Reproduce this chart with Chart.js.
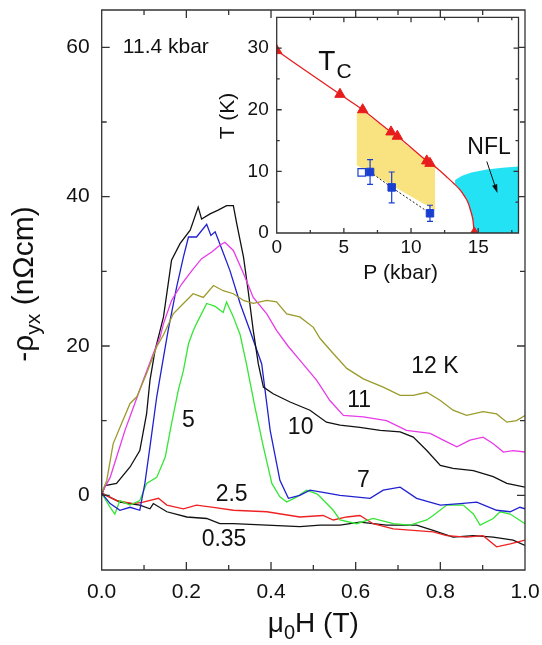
<!DOCTYPE html>
<html><head><meta charset="utf-8">
<script src="https://cdn.jsdelivr.net/npm/chart.js@4"></script>
<style>
html,body{margin:0;padding:0;background:#fff;}
#wrap{position:relative;width:542px;height:645px;overflow:hidden;}
#main{position:absolute;left:0;top:0;width:542px;height:645px;}
#inset{position:absolute;left:210px;top:0;width:320px;height:290px;}
</style></head><body>
<div id="wrap"><canvas id="main" width="542" height="645"></canvas><canvas id="inset" width="320" height="290"></canvas></div>
<script>
// ---------------- main plot data ----------------
const field12K = [0, 0.012, 0.027, 0.043, 0.067, 0.083, 0.106, 0.13, 0.146, 0.169, 0.193, 0.216, 0.24, 0.264, 0.287, 0.311, 0.335, 0.358, 0.39, 0.413, 0.437, 0.468, 0.5, 0.516, 0.547, 0.579, 0.618, 0.665, 0.705, 0.736, 0.768, 0.8, 0.83, 0.862, 0.901, 0.933, 0.957, 0.98, 1.0];
const rho12K   = [0.3, 2, 6.9, 9.1, 12.3, 13.2, 16.3, 19.9, 21.5, 24.3, 25.7, 27, 26.5, 28.1, 27.4, 27, 26.1, 25.7, 26.1, 25.9, 24.3, 23.9, 22.5, 21, 19, 17, 15.6, 14.5, 13.4, 13.4, 13.8, 12.7, 11.4, 10.7, 11.2, 10.9, 9.8, 10, 10.7];

const field11K = [0, 0.02, 0.035, 0.055, 0.075, 0.098, 0.122, 0.138, 0.146, 0.165, 0.189, 0.213, 0.236, 0.26, 0.279, 0.291, 0.311, 0.335, 0.358, 0.39, 0.413, 0.44, 0.468, 0.508, 0.539, 0.571, 0.618, 0.673, 0.72, 0.776, 0.807, 0.839, 0.87, 0.901, 0.925, 0.949, 0.972, 1.0];
const rho11K   = [0.3, 2.4, 5.1, 8.7, 11.8, 15.4, 19, 21.2, 23, 26.1, 28.3, 30.1, 31.7, 32.6, 33.5, 33.9, 32.8, 29.7, 26.5, 24.3, 22.1, 20, 18.1, 15.4, 12.7, 10.7, 10.5, 10, 8.7, 8.3, 7.4, 6.5, 7.4, 7.8, 6.9, 5.8, 6, 5.8];

const field10K = [0, 0.008, 0.035, 0.067, 0.09, 0.106, 0.114, 0.126, 0.138, 0.146, 0.165, 0.185, 0.209, 0.228, 0.236, 0.256, 0.275, 0.295, 0.311, 0.319, 0.335, 0.346, 0.358, 0.37, 0.382, 0.405, 0.445, 0.492, 0.531, 0.563, 0.61, 0.658, 0.705, 0.736, 0.768, 0.8, 0.83, 0.878, 0.925, 0.957, 1.0];
const rho10K   = [0, 1.3, 1.6, 3.8, 6, 10.9, 15.4, 19.4, 22.1, 23.9, 31.5, 33.7, 35.5, 38.6, 37, 37.7, 38.2, 38.8, 38.8, 36.4, 31.9, 27.4, 22.1, 17.6, 14.5, 13.6, 12.5, 11.4, 9.8, 9.4, 9.1, 8.7, 8.5, 7.8, 6, 4, 3.6, 3.3, 2.5, 1.6, 1.1];

const field7K = [0, 0.02, 0.043, 0.067, 0.09, 0.102, 0.114, 0.13, 0.146, 0.157, 0.177, 0.193, 0.205, 0.224, 0.248, 0.258, 0.268, 0.279, 0.303, 0.327, 0.35, 0.378, 0.398, 0.421, 0.441, 0.468, 0.492, 0.523, 0.563, 0.634, 0.665, 0.705, 0.744, 0.8, 0.847, 0.886, 0.933, 0.965, 0.988, 1.0];
const rho7K   = [0.3, -1.1, -2, -1.6, -2, 1.6, 6.5, 13.2, 18.5, 22.1, 27.9, 31.9, 34.6, 34.6, 36.3, 34.8, 35.3, 33.7, 30.1, 25.7, 22.1, 17.6, 8.7, 2, -0.4, 0, 0.7, 0.4, 0, -0.4, 0.7, 1.1, -0.4, -1.3, -1.1, -0.9, -2, -2.2, -1.6, -1.8];

const field5K = [0, 0.02, 0.031, 0.043, 0.067, 0.09, 0.106, 0.13, 0.15, 0.165, 0.181, 0.193, 0.205, 0.216, 0.224, 0.248, 0.268, 0.287, 0.295, 0.311, 0.327, 0.342, 0.362, 0.382, 0.402, 0.421, 0.437, 0.461, 0.484, 0.508, 0.516, 0.547, 0.563, 0.602, 0.641, 0.689, 0.728, 0.768, 0.783, 0.815, 0.854, 0.878, 0.894, 0.925, 0.941, 0.965, 1.0];
const rho5K   = [0.3, -1.6, -2.5, -0.7, -1.3, -0.7, 1.6, 2.4, 5.1, 9.6, 14.1, 16.7, 20.3, 22, 23, 25.7, 25.3, 24.5, 25.9, 23.9, 21.5, 17.6, 11.8, 6.5, 1.6, -0.2, -0.9, -0.2, 0.7, 0.2, -0.2, -2, -3.3, -3.8, -3.1, -3.8, -4, -3.3, -2.7, -1.3, -1.3, -2.5, -4, -3.1, -2.2, -2.5, -3.8];

const field2p5K = [0, 0.035, 0.075, 0.098, 0.134, 0.154, 0.193, 0.224, 0.264, 0.311, 0.39, 0.468, 0.523, 0.547, 0.579, 0.61, 0.641, 0.689, 0.736, 0.783, 0.815, 0.862, 0.901, 0.933, 0.965, 1.0];
const rho2p5K   = [0.3, -0.7, -1.1, -0.9, -0.4, -1.3, -1.8, -1.3, -1.6, -2, -2.2, -2.9, -2.7, -3.3, -2.9, -2.7, -3.8, -4.5, -4.7, -4.9, -5.4, -5.6, -5.4, -6.9, -6.5, -6];

const field0p35K = [0, 0.043, 0.09, 0.114, 0.122, 0.154, 0.201, 0.248, 0.279, 0.311, 0.39, 0.468, 0.516, 0.563, 0.61, 0.673, 0.744, 0.783, 0.83, 0.878, 0.925, 0.972, 1.0];
const rho0p35K   = [0.3, -0.9, -1.3, -1.8, -1.1, -2.2, -2.9, -3.1, -3.8, -3.8, -4, -4.2, -4, -4, -3.6, -4, -4, -4.7, -5.6, -5.4, -5.6, -6, -6.7];

const mainXTicks = [0, 0.2, 0.4, 0.6, 0.8, 1.0];
const mainXMinor = [0.1, 0.3, 0.5, 0.7, 0.9];
const mainYTicks = [0, 20, 40, 60];
const mainYMinor = [10, 30, 50];

const curveLabels = ['12 K', '11', '10', '7', '5', '2.5', '0.35'];
const curveLabelX = [0.787, 0.608, 0.47, 0.618, 0.205, 0.307, 0.289];
const curveLabelY = [17.2, 12.7, 9.1, 2.0, 10.0, 0.1, -5.9];
const pressureLabel = '11.4 kbar';
const pressureLabelX = 0.05, pressureLabelY = 60;

// ---------------- inset data ----------------
const tcP = [0, 4.71, 6.4, 8.51, 8.98, 11.17, 11.41, 14.71];
const tcT = [29.6, 22.5, 20.0, 16.4, 15.7, 11.7, 11.3, 0];
const tcLineP = [0, 4.71, 6.4, 8.51, 8.98, 11.17, 11.41, 12.0, 12.66, 13.2, 13.65, 14.0, 14.27, 14.45, 14.6, 14.71];
const tcLineT = [29.6, 22.5, 20.0, 16.4, 15.7, 11.7, 11.3, 10.4, 9.1, 8.0, 7.0, 5.9, 4.8, 3.5, 2.2, 0];
const sqP = [6.95, 8.56, 11.41];
const sqT = [9.9, 7.4, 3.2];
const sqErr = [2.0, 2.5, 1.3];
const openSqP = [6.33];
const openSqT = [9.85];
const yellowP = [5.96, 6.4, 8.51, 11.17, 11.79, 11.79, 5.96, 5.96];
const yellowT = [19.5, 19.8, 16.3, 11.6, 10.6, 3.7, 11.0, 19.5];
const nflP = [13.28, 13.8, 14.5, 15.64, 16.8, 18, 18, 14.71, 14.6, 14.45, 14.27, 14.0, 13.65, 13.28];
const nflT = [8.6, 9.3, 9.8, 10.3, 10.6, 10.8, 0, 0, 2.2, 3.5, 4.8, 5.9, 7.0, 8.0];
const insetXTicks = [0, 5, 10, 15];
const insetXMinor = [2.5, 7.5, 12.5, 17.5];
const insetYTicks = [0, 10, 20, 30];
const insetYMinor = [5, 15, 25];
const nflArrowP = [15.64, 16.43];
const nflArrowT = [11.6, 6.5];

// ---------------- helpers ----------------
const FAM = '"Liberation Sans", Arial, Helvetica, sans-serif';
Chart.defaults.font.family = FAM;
const pts = (xs, ys) => xs.map((x, i) => ({x: x, y: ys[i]}));
const f = (s) => s + 'px ' + FAM;

function drawRich(ctx, parts, x, y, rot) {
  ctx.save();
  ctx.translate(x, y);
  ctx.rotate(rot);
  ctx.textBaseline = 'alphabetic';
  ctx.textAlign = 'left';
  let total = 0;
  parts.forEach(p => { ctx.font = f(p.size); p.w = ctx.measureText(p.t).width; total += p.w; });
  let cx = -total / 2;
  parts.forEach(p => { ctx.font = f(p.size); ctx.fillText(p.t, cx, p.dy || 0); cx += p.w; });
  ctx.restore();
}

function frameTicks(chart, c) {
  const {ctx, chartArea: a, scales: {x, y}} = chart;
  ctx.save();
  ctx.strokeStyle = '#333';
  ctx.lineWidth = c.lw;
  ctx.beginPath();
  ctx.rect(a.left, a.top, a.right - a.left, a.bottom - a.top);
  const xt = (vals, len) => vals.forEach(v => { const p = x.getPixelForValue(v); ctx.moveTo(p, a.bottom); ctx.lineTo(p, a.bottom - len); ctx.moveTo(p, a.top); ctx.lineTo(p, a.top + len); });
  const yt = (vals, len) => vals.forEach(v => { const p = y.getPixelForValue(v); ctx.moveTo(a.left, p); ctx.lineTo(a.left + len, p); ctx.moveTo(a.right, p); ctx.lineTo(a.right - len, p); });
  xt(c.xMaj, c.maj); xt(c.xMin, c.min); yt(c.yMaj, c.maj); yt(c.yMin, c.min);
  ctx.stroke();
  ctx.restore();
}

// ---------------- main chart ----------------
const lineDS = (label, xs, ys, color) => ({
  label: label, data: pts(xs, ys), borderColor: color, backgroundColor: color,
  borderWidth: 1.3, pointRadius: 0, tension: 0, fill: false
});

const mainPlugin = {
  id: 'mainDeco',
  afterDatasetsDraw(chart) {
    frameTicks(chart, {lw: 1.3, maj: 8, min: 5, xMaj: mainXTicks, xMin: mainXMinor, yMaj: mainYTicks, yMin: mainYMinor});
  },
  afterDraw(chart) {
    const {ctx, scales: {x, y}} = chart;
    ctx.save();
    ctx.fillStyle = '#111';
    ctx.font = f(23);
    ctx.textAlign = 'center';
    ctx.textBaseline = 'middle';
    curveLabels.forEach((t, i) => ctx.fillText(t, x.getPixelForValue(curveLabelX[i]), y.getPixelForValue(curveLabelY[i])));
    ctx.font = f(21);
    ctx.textAlign = 'left';
    ctx.fillText(pressureLabel, x.getPixelForValue(pressureLabelX), y.getPixelForValue(pressureLabelY));
    // axis titles
    drawRich(ctx, [{t: 'μ', size: 28}, {t: '0', size: 20, dy: 7}, {t: 'H (T)', size: 28}], (chart.chartArea.left + chart.chartArea.right) / 2, 632, 0);
    drawRich(ctx, [{t: '-ρ', size: 30}, {t: 'yx', size: 21, dy: 7}, {t: ' (nΩcm)', size: 30}], 33, 284, -Math.PI / 2);
    ctx.restore();
  }
};

new Chart(document.getElementById('main'), {
  type: 'line',
  data: {
    datasets: [
      lineDS('12 K', field12K, rho12K, '#9b9b2b'),
      lineDS('11 K', field11K, rho11K, '#e83be8'),
      lineDS('10 K', field10K, rho10K, '#111111'),
      lineDS('7 K', field7K, rho7K, '#2020d0'),
      lineDS('5 K', field5K, rho5K, '#35e635'),
      lineDS('2.5 K', field2p5K, rho2p5K, '#ee2222'),
      lineDS('0.35 K', field0p35K, rho0p35K, '#111111')
    ]
  },
  options: {
    responsive: false, animation: false, devicePixelRatio: 1,
    layout: {padding: {left: 0, right: 17, top: 10, bottom: 0}},
    plugins: {legend: {display: false}, tooltip: {enabled: false}},
    scales: {
      x: {
        type: 'linear', min: 0, max: 1,
        grid: {display: false, drawTicks: false}, border: {display: false},
        afterBuildTicks: s => { s.ticks = mainXTicks.map(v => ({value: v})); },
        ticks: {padding: 10, color: '#111', font: {size: 21}, maxRotation: 0, autoSkip: false, callback: v => Number(v).toFixed(1)},
        afterFit: s => { s.height = 75; s.paddingLeft = 0; s.paddingRight = 0; }
      },
      y: {
        type: 'linear', min: -10, max: 65,
        grid: {display: false, drawTicks: false}, border: {display: false},
        afterBuildTicks: s => { s.ticks = mainYTicks.map(v => ({value: v})); },
        ticks: {padding: 12, color: '#111', font: {size: 21}, autoSkip: false, callback: v => String(v)},
        afterFit: s => { s.width = 101.7; s.paddingTop = 0; s.paddingBottom = 0; }
      }
    }
  },
  plugins: [mainPlugin]
});

// ---------------- inset chart ----------------
const insetPlugin = {
  id: 'insetDeco',
  beforeDraw(chart) {
    const {ctx, chartArea: a} = chart;
    ctx.save(); ctx.fillStyle = '#ffffff'; ctx.fillRect(a.left, a.top, a.right - a.left, a.bottom - a.top); ctx.restore();
  },
  afterDatasetsDraw(chart) {
    const {ctx, scales: {x, y}} = chart;
    // error bars
    ctx.save();
    ctx.strokeStyle = '#1a3fd0'; ctx.lineWidth = 1.2;
    ctx.beginPath();
    sqP.forEach((p, i) => {
      const px = x.getPixelForValue(p);
      const y1 = y.getPixelForValue(sqT[i] - sqErr[i]), y2 = y.getPixelForValue(sqT[i] + sqErr[i]);
      ctx.moveTo(px, y1); ctx.lineTo(px, y2);
      ctx.moveTo(px - 3, y1); ctx.lineTo(px + 3, y1);
      ctx.moveTo(px - 3, y2); ctx.lineTo(px + 3, y2);
    });
    ctx.stroke();
    ctx.restore();
    frameTicks(chart, {lw: 1.3, maj: 5, min: 3, xMaj: insetXTicks, xMin: insetXMinor, yMaj: insetYTicks, yMin: insetYMinor});
  },
  afterDraw(chart) {
    const {ctx, scales: {x, y}, chartArea: a} = chart;
    ctx.save();
    ctx.fillStyle = '#111';
    // T_C label
    ctx.textAlign = 'left'; ctx.textBaseline = 'alphabetic';
    const tx = x.getPixelForValue(3.1), ty = y.getPixelForValue(26.5);
    ctx.font = f(28); ctx.fillText('T', tx, ty);
    const tw = ctx.measureText('T').width;
    ctx.font = f(21); ctx.fillText('C', tx + tw + 1, ty + 8);
    // NFL label + arrow
    ctx.font = f(23); ctx.textAlign = 'center'; ctx.textBaseline = 'middle';
    ctx.fillText('NFL', x.getPixelForValue(15.81), y.getPixelForValue(13.8));
    const ax1 = x.getPixelForValue(nflArrowP[0]), ay1 = y.getPixelForValue(nflArrowT[0]);
    const ax2 = x.getPixelForValue(nflArrowP[1]), ay2 = y.getPixelForValue(nflArrowT[1]);
    const ang = Math.atan2(ay2 - ay1, ax2 - ax1);
    ctx.strokeStyle = '#111'; ctx.lineWidth = 1;
    ctx.beginPath(); ctx.moveTo(ax1, ay1); ctx.lineTo(ax2 - 6 * Math.cos(ang), ay2 - 6 * Math.sin(ang)); ctx.stroke();
    ctx.beginPath();
    ctx.moveTo(ax2, ay2);
    ctx.lineTo(ax2 - 9 * Math.cos(ang - 0.3), ay2 - 9 * Math.sin(ang - 0.3));
    ctx.lineTo(ax2 - 9 * Math.cos(ang + 0.3), ay2 - 9 * Math.sin(ang + 0.3));
    ctx.closePath(); ctx.fill();
    // axis titles
    drawRich(ctx, [{t: 'P (kbar)', size: 21}], (a.left + a.right) / 2 + 3, 279, 0);
    drawRich(ctx, [{t: 'T (K)', size: 21}], 24, 116, -Math.PI / 2);
    ctx.restore();
  }
};

new Chart(document.getElementById('inset'), {
  type: 'line',
  data: {
    datasets: [
      {label: 'region', data: pts(yellowP, yellowT), showLine: true, fill: 'shape', backgroundColor: '#f9e380', borderWidth: 0, borderColor: 'rgba(0,0,0,0)', pointRadius: 0, tension: 0, order: 10},
      {label: 'NFL', data: pts(nflP, nflT), showLine: true, fill: 'shape', backgroundColor: '#22e2f4', borderWidth: 0, borderColor: 'rgba(0,0,0,0)', pointRadius: 0, tension: 0, order: 9},
      {label: 'guide', data: pts(sqP, sqT), showLine: true, borderColor: '#222', borderWidth: 1, borderDash: [2, 2], pointRadius: 0, tension: 0, fill: false, order: 6},
      {label: 'Tc line', data: pts(tcLineP, tcLineT), showLine: true, borderColor: '#e81c1c', borderWidth: 1.3, pointRadius: 0, cubicInterpolationMode: 'monotone', fill: false, order: 5},
      {label: 'Tc', data: pts(tcP, tcT), showLine: false, pointStyle: 'triangle', pointRadius: 6, backgroundColor: '#e81c1c', borderColor: '#e81c1c', borderWidth: 1, clip: 0, order: 4},
      {label: 'open', data: pts(openSqP, openSqT), showLine: false, pointStyle: 'rect', pointRadius: 5.3, backgroundColor: '#ffffff', borderColor: '#1a3fd0', borderWidth: 1.2, order: 2},
      {label: 'squares', data: pts(sqP, sqT), showLine: false, pointStyle: 'rect', pointRadius: 5.3, backgroundColor: '#1a3fd0', borderColor: '#1a3fd0', borderWidth: 1, order: 1}
    ]
  },
  options: {
    responsive: false, animation: false, devicePixelRatio: 1,
    layout: {padding: {left: 0, right: 11.5, top: 17.3, bottom: 0}},
    plugins: {legend: {display: false}, tooltip: {enabled: false}},
    scales: {
      x: {
        type: 'linear', min: 0, max: 18,
        grid: {display: false, drawTicks: false}, border: {display: false},
        afterBuildTicks: s => { s.ticks = insetXTicks.map(v => ({value: v})); },
        ticks: {padding: 3, color: '#111', font: {size: 19}, maxRotation: 0, autoSkip: false, callback: v => String(v)},
        afterFit: s => { s.height = 57; s.paddingLeft = 0; s.paddingRight = 0; }
      },
      y: {
        type: 'linear', min: 0, max: 35,
        grid: {display: false, drawTicks: false}, border: {display: false},
        afterBuildTicks: s => { s.ticks = insetYTicks.map(v => ({value: v})); },
        ticks: {padding: 8, color: '#111', font: {size: 19}, autoSkip: false, callback: v => String(v)},
        afterFit: s => { s.width = 66.7; s.paddingTop = 0; s.paddingBottom = 0; }
      }
    }
  },
  plugins: [insetPlugin]
});
</script>
</body></html>
